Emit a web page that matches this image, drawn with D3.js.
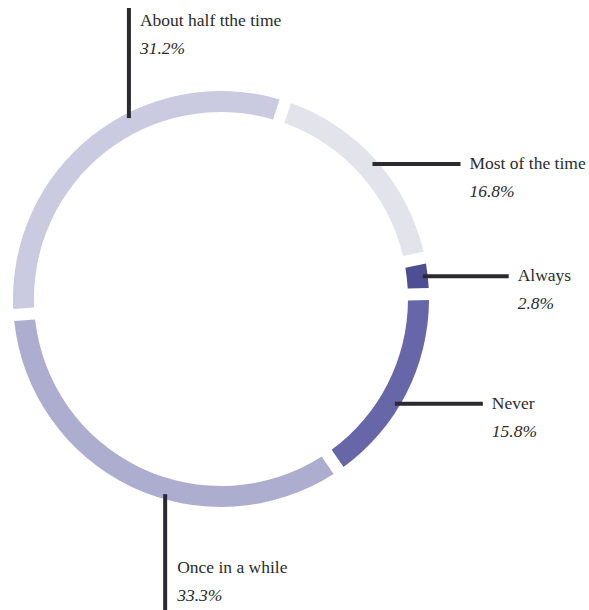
<!DOCTYPE html>
<html>
<head>
<meta charset="utf-8">
<script src="https://cdn.jsdelivr.net/npm/d3@7/dist/d3.min.js"></script>
<style>
  html, body { margin: 0; padding: 0; background: #fff; }
  svg { display: block; }
  .lbl { font-family: "Liberation Serif", "Times New Roman", serif; font-size: 17.5px; fill: #2b2b2b; }
  .pct { font-style: italic; }
</style>
</head>
<body>
<svg id="chart" width="589" height="610"></svg>
<script>
// Survey answers, in ring order (clockwise)
const categories = ["Most of the time", "Always", "Never", "Once in a while", "About half tthe time"];
const shares = [16.8, 2.8, 15.8, 33.3, 31.2];
const colors = ["#e3e3eb", "#4e4e95", "#6666a9", "#adadcf", "#cacae0"];

// Leader-line style per answer: horizontal to the right, or vertical up/down.
// `at` is the position along the slice (0..1) where the line meets the ring.
const leaders = {
  "Most of the time":     { dir: "right", at: 0.5, len: 88 },
  "Always":               { dir: "right", at: 0.5, len: 86 },
  "Never":                { dir: "right", at: 0.57, len: 88 },
  "Once in a while":      { dir: "down",  at: 0.42 },
  "About half tthe time": { dir: "up",    at: 0.6 }
};

const W = 589, H = 610;
const cx = 221, cy = 299;
const outerR = 208, innerR = 187, anchorR = 203;
const startDeg = 18;

const svg = d3.select("#chart");
const g = svg.append("g").attr("transform", `translate(${cx},${cy})`);

const data = categories.map((c, i) => ({ name: c, value: shares[i], color: colors[i] }));

// Slices keep their exact share of the circle; the gap is cut out by the arc generator.
const pie = d3.pie()
  .value(d => d.value)
  .sort(null)
  .startAngle(startDeg * Math.PI / 180)
  .endAngle(startDeg * Math.PI / 180 + 2 * Math.PI);

const arc = d3.arc()
  .innerRadius(innerR)
  .outerRadius(outerR)
  .padAngle(0.06)
  .padRadius(200);

const arcs = pie(data);

g.selectAll("path.slice")
  .data(arcs)
  .join("path")
  .attr("class", "slice")
  .attr("d", arc)
  .attr("fill", d => d.data.color);

// Leader lines and labels
const pt = (a, r) => [r * Math.sin(a), -r * Math.cos(a)];

arcs.forEach(d => {
  const L = leaders[d.data.name];
  const a = d.startAngle + (d.endAngle - d.startAngle) * L.at;
  const [x0, y0] = pt(a, anchorR);
  let x1, y1, tx, ty;
  if (L.dir === "right") {
    x1 = x0 + L.len; y1 = y0;
    tx = x1 + 9; ty = y0 + 5;
  } else if (L.dir === "up") {
    x1 = x0; y1 = -cy + 8;
    tx = x0 + 11; ty = -cy + 26;
  } else {
    x1 = x0; y1 = H - cy + 2;
    tx = x0 + 12; ty = H - cy - 37;
  }
  g.append("line")
    .attr("x1", x0).attr("y1", y0)
    .attr("x2", x1).attr("y2", y1)
    .attr("stroke", "#2a2a30")
    .attr("stroke-width", 4);

  g.append("text")
    .attr("class", "lbl")
    .attr("x", tx).attr("y", ty)
    .text(d.data.name);
  g.append("text")
    .attr("class", "lbl pct")
    .attr("x", tx).attr("y", ty + 28)
    .text(d3.format(".1f")(d.data.value) + "%");
});
</script>
</body>
</html>
